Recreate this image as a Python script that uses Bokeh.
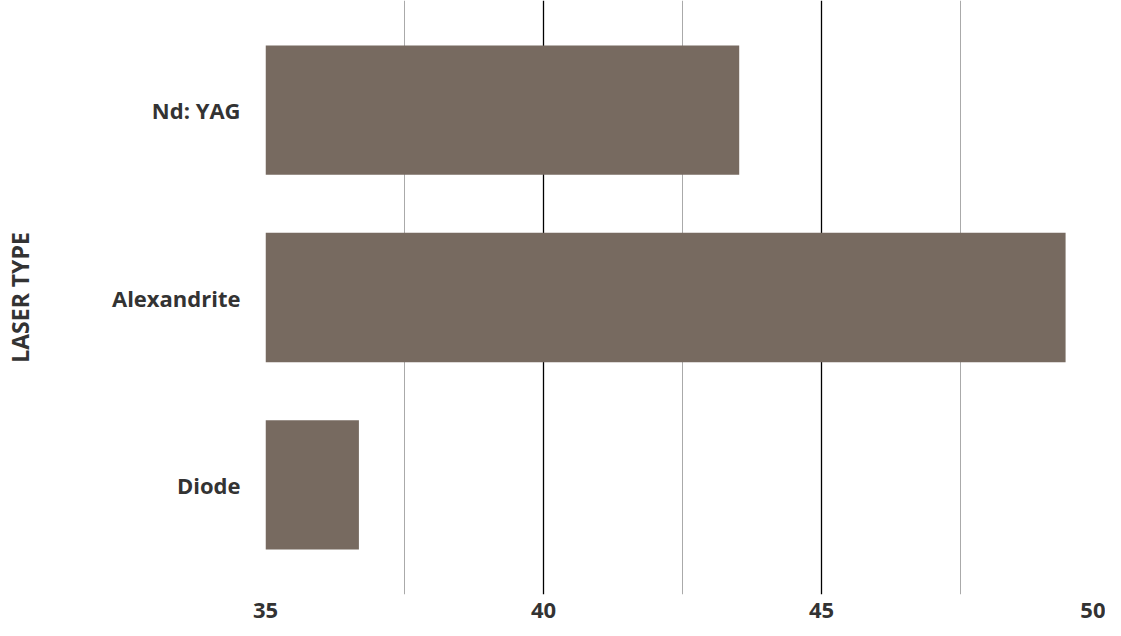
from bokeh.plotting import figure
from bokeh.models import FactorRange, Range1d, FixedTicker
from bokeh.embed import file_html
from bokeh.resources import INLINE

categories = ["Diode", "Alexandrite", "Nd: YAG"]
values = [36.68, 49.39, 43.52]
x_ticks = [35, 40, 45, 50]
x_minor = [37.5, 42.5, 47.5]

FONT = "Open Sans"
TEXT = "#333333"

p = figure(
    width=1105, height=620,
    y_range=FactorRange(factors=categories, range_padding=0.057),
    x_range=Range1d(35, 50),
    output_backend="svg", toolbar_location=None,
    min_border_left=259, min_border_right=6, min_border_top=0, min_border_bottom=0,
)
p.hbar(y=categories, right=values, left=35, height=0.69, color="#776a60", line_color=None)

p.outline_line_color = None
p.xaxis.ticker = FixedTicker(ticks=x_ticks, minor_ticks=x_minor)
p.xaxis.axis_line_color = None
p.xaxis.major_tick_line_color = None
p.xaxis.minor_tick_line_color = None
p.xaxis.major_label_text_font = FONT
p.xaxis.major_label_text_font_style = "bold"
p.xaxis.major_label_text_font_size = "22px"
p.xaxis.major_label_text_color = TEXT
p.xaxis.major_label_standoff = 2

p.yaxis.axis_line_color = None
p.yaxis.major_tick_line_color = None
p.yaxis.minor_tick_line_color = None
p.yaxis.major_label_text_font = FONT
p.yaxis.major_label_text_font_style = "bold"
p.yaxis.major_label_text_font_size = "22px"
p.yaxis.major_label_text_color = TEXT
p.yaxis.major_label_standoff = 19
p.yaxis.axis_label = "LASER TYPE"
p.yaxis.axis_label_text_font = FONT
p.yaxis.axis_label_text_font_style = "bold"
p.yaxis.axis_label_text_font_size = "23px"
p.yaxis.axis_label_text_color = TEXT
p.yaxis.axis_label_standoff = 73

p.xgrid.grid_line_color = "#000000"
p.xgrid.grid_line_width = 1.3
p.xgrid.minor_grid_line_color = "#aaaaaa"
p.xgrid.minor_grid_line_width = 1
p.ygrid.grid_line_color = None

open("out.html", "w").write(file_html(p, INLINE))
